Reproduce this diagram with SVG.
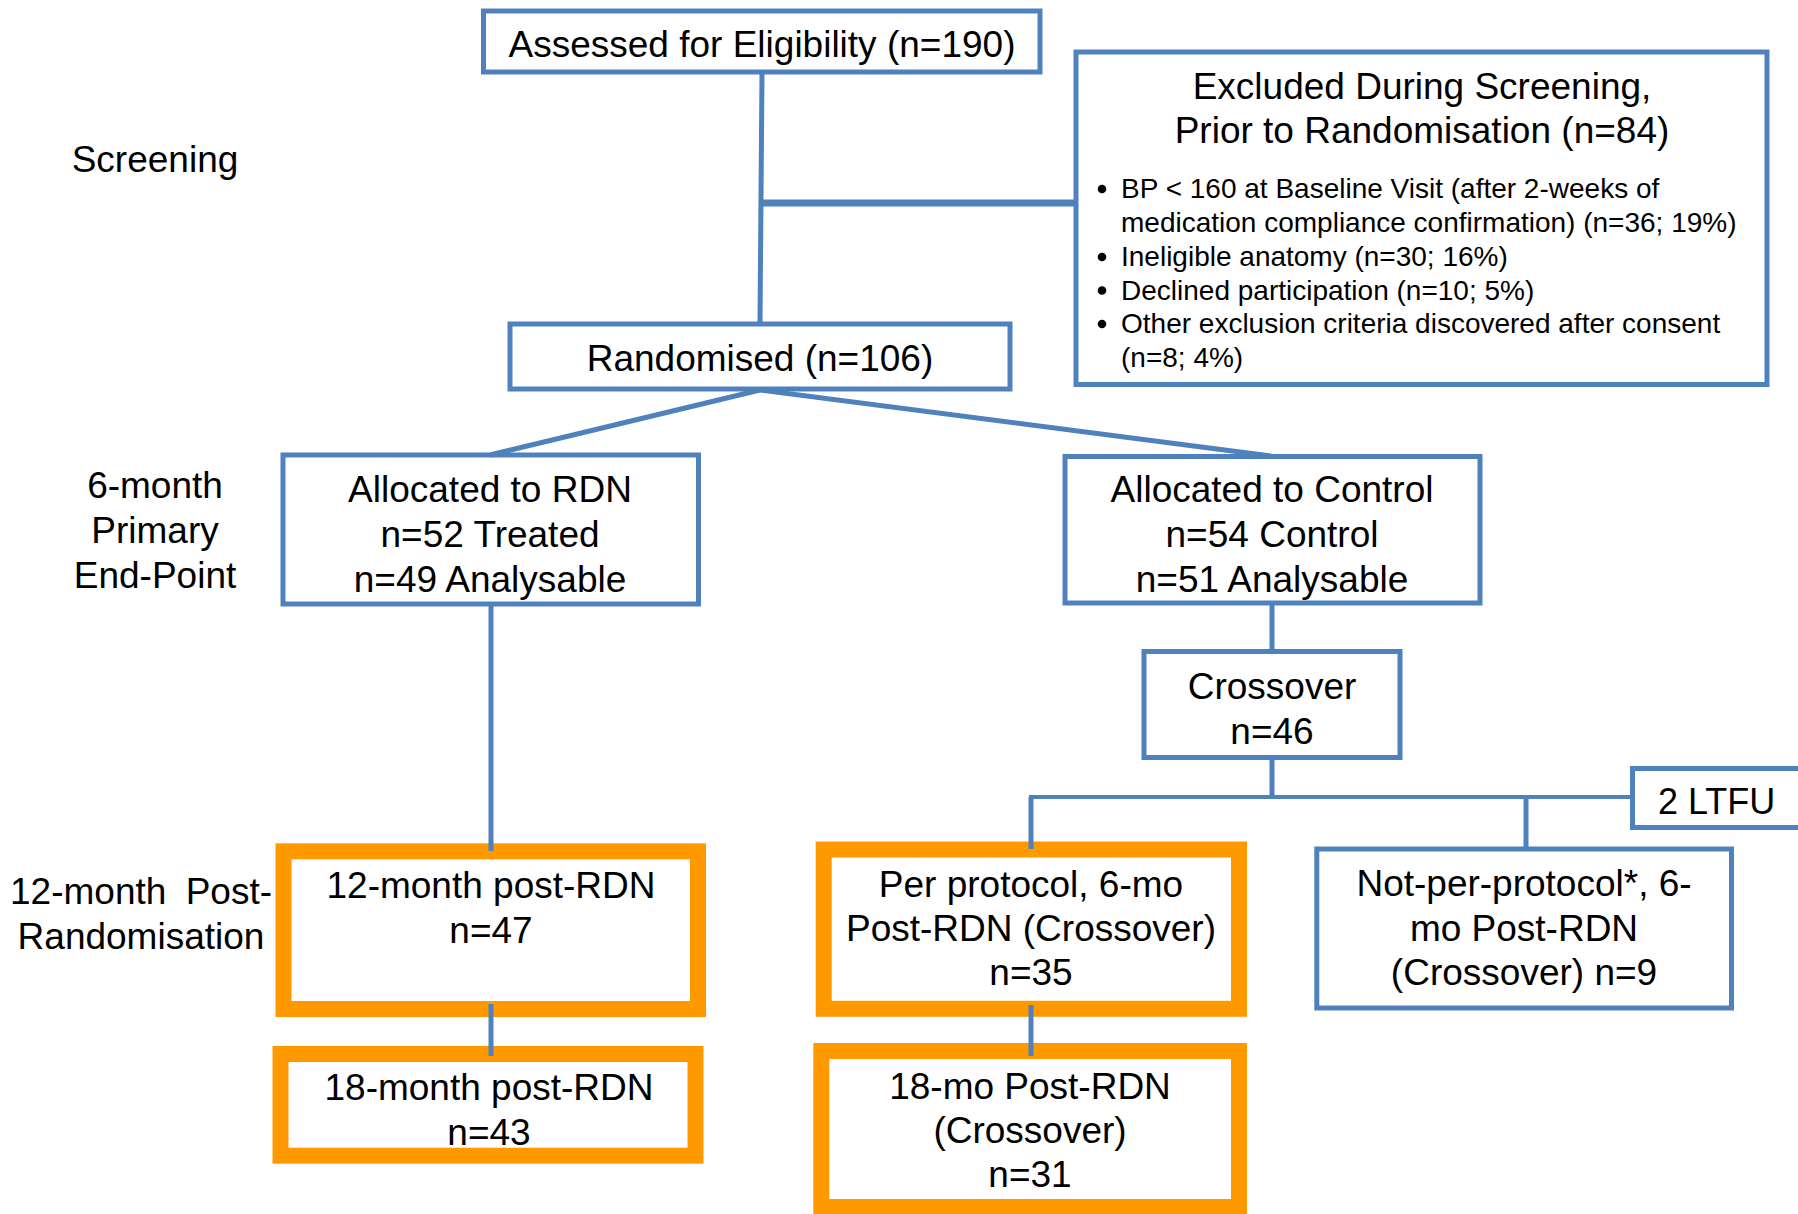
<svg xmlns="http://www.w3.org/2000/svg" width="1798" height="1214" viewBox="0 0 1798 1214">
<style>
  .t { font-family: "Liberation Sans", Arial, sans-serif; font-size: 37px; fill: #000; }
  .c { text-anchor: middle; }
  .b { font-family: "Liberation Sans", Arial, sans-serif; font-size: 28px; fill: #000; }
  .box { fill: #fff; stroke: #4F81BD; stroke-width: 5; }
  .obox { fill: #fff; stroke: #FF9900; stroke-width: 16; }
  .ln { stroke: #4F81BD; stroke-width: 5; fill: none; }
</style>
<rect width="1798" height="1214" fill="#fff"/>

<g id="labels">
  <text class="t c" x="155" y="172">Screening</text>
  <text class="t c" x="155" y="498">6-month</text>
  <text class="t c" x="155" y="543">Primary</text>
  <text class="t c" x="155" y="588">End-Point</text>
  <text class="t" x="10" y="904">12-month</text>
  <text class="t" x="272" y="904" text-anchor="end">Post-</text>
  <text class="t c" x="141" y="949">Randomisation</text>
</g>

<g id="n-assessed">
  <rect class="box" x="483.5" y="11" width="556.5" height="61"/>
  <text class="t c" x="762" y="56.5">Assessed for Eligibility (n=190)</text>
</g>

<g id="n-excluded">
  <rect class="box" x="1076" y="52" width="691" height="332.5"/>
  <text class="t c" x="1422" y="98.5">Excluded During Screening,</text>
  <text class="t c" x="1422" y="143">Prior to Randomisation (n=84)</text>
  <circle cx="1102" cy="189" r="4.3" fill="#000"/>
  <text class="b" x="1121" y="198">BP &lt; 160 at Baseline Visit (after 2-weeks of</text>
  <text class="b" x="1121" y="232">medication compliance confirmation) (n=36; 19%)</text>
  <circle cx="1102" cy="257" r="4.3" fill="#000"/>
  <text class="b" x="1121" y="266">Ineligible anatomy (n=30; 16%)</text>
  <circle cx="1102" cy="290.5" r="4.3" fill="#000"/>
  <text class="b" x="1121" y="299.5">Declined participation (n=10; 5%)</text>
  <circle cx="1102" cy="324" r="4.3" fill="#000"/>
  <text class="b" x="1121" y="333">Other exclusion criteria discovered after consent</text>
  <text class="b" x="1121" y="367">(n=8; 4%)</text>
</g>

<g id="n-randomised">
  <rect class="box" x="510" y="324" width="500" height="65"/>
  <text class="t c" x="760" y="371">Randomised (n=106)</text>
</g>

<g id="n-rdn">
  <rect class="box" x="283" y="455" width="415.5" height="149"/>
  <text class="t c" x="490" y="501.5">Allocated to RDN</text>
  <text class="t c" x="490" y="546.5">n=52 Treated</text>
  <text class="t c" x="490" y="591.5">n=49 Analysable</text>
</g>

<g id="n-control">
  <rect class="box" x="1065" y="456.5" width="415" height="146.5"/>
  <text class="t c" x="1272" y="501.5">Allocated to Control</text>
  <text class="t c" x="1272" y="546.5">n=54 Control</text>
  <text class="t c" x="1272" y="591.5">n=51 Analysable</text>
</g>

<g id="n-crossover">
  <rect class="box" x="1144" y="651.5" width="256" height="106"/>
  <text class="t c" x="1272" y="699">Crossover</text>
  <text class="t c" x="1272" y="744">n=46</text>
</g>

<g id="n-ltfu">
  <rect class="box" x="1632.5" y="768.5" width="180" height="59"/>
  <text class="t" x="1658" y="813.5" style="font-size:36px">2 LTFU</text>
</g>

<g id="n-12m">
  <rect class="obox" x="283.5" y="851.3" width="414.5" height="157.7"/>
  <text class="t c" x="491" y="897.5">12-month post-RDN</text>
  <text class="t c" x="491" y="942.5">n=47</text>
</g>

<g id="n-18m">
  <rect class="obox" x="280.5" y="1054" width="415" height="101.7"/>
  <text class="t c" x="489" y="1099.5">18-month post-RDN</text>
  <text class="t c" x="489" y="1144.5">n=43</text>
</g>

<g id="n-pp">
  <rect class="obox" x="823.7" y="849.5" width="415.3" height="159.3"/>
  <text class="t c" x="1031" y="896.5">Per protocol, 6-mo</text>
  <text class="t c" x="1031" y="940.5">Post-RDN (Crossover)</text>
  <text class="t c" x="1031" y="984.5">n=35</text>
</g>

<g id="n-18mo-cross">
  <rect class="obox" x="821.3" y="1051" width="417.7" height="156"/>
  <text class="t c" x="1030" y="1098.5">18-mo Post-RDN</text>
  <text class="t c" x="1030" y="1143">(Crossover)</text>
  <text class="t c" x="1030" y="1186.5">n=31</text>
</g>

<g id="n-npp">
  <rect class="box" x="1316.8" y="849" width="414.7" height="159"/>
  <text class="t c" x="1524" y="895.5">Not-per-protocol*, 6-</text>
  <text class="t c" x="1524" y="940.5">mo Post-RDN</text>
  <text class="t c" x="1524" y="984.5">(Crossover) n=9</text>
</g>

<g id="connectors">
  <line class="ln" x1="762" y1="73" x2="760" y2="322"/>
  <line class="ln" x1="760" y1="203" x2="1074" y2="203" style="stroke-width:7"/>
  <line class="ln" x1="760" y1="390" x2="490" y2="455"/>
  <line class="ln" x1="760" y1="390" x2="1271" y2="456"/>
  <line class="ln" x1="491" y1="606" x2="491" y2="851"/>
  <line class="ln" x1="491" y1="1004" x2="491" y2="1056"/>
  <line class="ln" x1="1272" y1="605" x2="1272" y2="650"/>
  <line class="ln" x1="1272" y1="760" x2="1272" y2="797"/>
  <line class="ln" x1="1029" y1="797" x2="1631" y2="797" style="stroke-width:4"/>
  <line class="ln" x1="1031" y1="797" x2="1031" y2="849"/>
  <line class="ln" x1="1526" y1="797" x2="1526" y2="848"/>
  <line class="ln" x1="1031" y1="1005" x2="1031" y2="1056"/>
</g>
</svg>
